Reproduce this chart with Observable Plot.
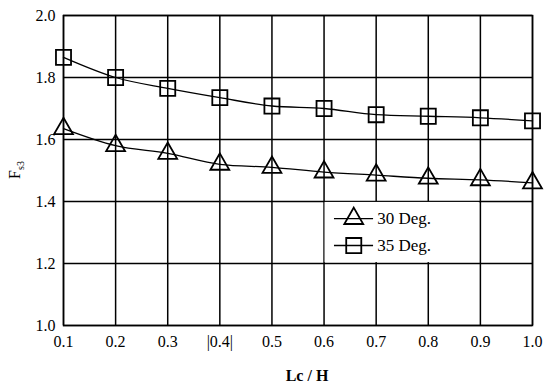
<!DOCTYPE html>
<html><head><meta charset="utf-8">
<script src="https://cdn.jsdelivr.net/npm/d3@7"></script>
<script src="https://cdn.jsdelivr.net/npm/@observablehq/plot@0.6"></script>
<style>body{margin:0;background:#fff}</style>
</head><body><div id="chart"></div>
<script>
const lcH = [0.1,0.2,0.3,0.4,0.5,0.6,0.7,0.8,0.9,1.0];
const deg30 = [1.635,1.58,1.555,1.52,1.51,1.495,1.485,1.475,1.47,1.46];
const deg35 = [1.865,1.80,1.765,1.735,1.708,1.70,1.68,1.675,1.67,1.66];
const xTicks = [0.1,0.2,0.3,0.4,0.5,0.6,0.7,0.8,0.9,1.0];
const xTickLabels = ["0.1","0.2","0.3","|0.4|","0.5","0.6","0.7","0.8","0.9","1.0"];
const yTicks = [1.0,1.2,1.4,1.6,1.8,2.0];
const yTickLabels = ["1.0","1.2","1.4","1.6","1.8","2.0"];
const seriesNames = ["30 Deg.","35 Deg."];

const d30 = lcH.map((x,i)=>({x, y:deg30[i]}));
const d35 = lcH.map((x,i)=>({x, y:deg35[i]}));
const legend = [{name:seriesNames[0], symbol:"triangle", lx:0.62, ly:1.345},
                {name:seriesNames[1], symbol:"square", lx:0.62, ly:1.258}];

const W=550,H=387;
const font = "'Liberation Serif', 'DejaVu Serif', serif";
const chart = Plot.plot({
  width:W, height:H,
  marginLeft:63, marginRight:18, marginTop:15, marginBottom:62,
  style:{fontSize:"16px", color:"#000", background:"#fff"},
  x:{domain:[0.1,1.0], axis:null},
  y:{domain:[1.0,2.0], axis:null},
  marks:[
    Plot.ruleX(xTicks,{stroke:"#000", strokeWidth:1.5, strokeOpacity:1}),
    Plot.ruleY(yTicks,{stroke:"#000", strokeWidth:1.5, strokeOpacity:1}),
    Plot.rect([{}],{x1:0.602,x2:0.898,y1:1.203,y2:1.397,fill:"#fff"}),
    Plot.frame({stroke:"#000", strokeWidth:1.5}),
    Plot.line(d30,{x:"x",y:"y",curve:"monotone-x",stroke:"#000",strokeWidth:1.3}),
    Plot.line(d35,{x:"x",y:"y",curve:"monotone-x",stroke:"#000",strokeWidth:1.3}),
    Plot.dot(d30,{x:"x",y:"y",symbol:"triangle",r:7,stroke:"#000",strokeWidth:1.8,fill:"none"}),
    Plot.dot(d35,{x:"x",y:"y",symbol:"square",r:8.5,stroke:"#000",strokeWidth:1.8,fill:"none"}),
    // legend
    Plot.ruleY(legend,{y:"ly",x1:"lx",x2:d=>d.lx+0.075,stroke:"#000",strokeWidth:1.3}),
    Plot.dot([legend[0]],{x:d=>d.lx+0.037,y:"ly",symbol:"triangle",r:7,stroke:"#000",strokeWidth:1.8,fill:"none"}),
    Plot.dot([legend[1]],{x:d=>d.lx+0.037,y:"ly",symbol:"square",r:8.5,stroke:"#000",strokeWidth:1.8,fill:"none"}),
    Plot.text(legend,{x:d=>d.lx+0.082,y:"ly",text:"name",textAnchor:"start",fontSize:17,fill:"#000"}),
    // axes tick labels
    Plot.text(xTicks,{x:d=>d,frameAnchor:"bottom",dy:21,text:(d,i)=>xTickLabels[i],fontSize:16,fill:"#000"}),
    Plot.text(yTicks,{y:d=>d,frameAnchor:"left",textAnchor:"end",dx:-8,text:(d,i)=>yTickLabels[i],fontSize:16,fill:"#000"})
  ]
});
document.getElementById("chart").appendChild(chart);
const svg = d3.select(chart);
svg.append("text").attr("x",307).attr("y",381).attr("text-anchor","middle")
  .attr("font-size",16).attr("font-weight","bold").text("Lc / H");
const yl = svg.append("text").attr("transform","translate(20,170) rotate(-90)")
  .attr("text-anchor","middle").attr("font-size",16);
yl.append("tspan").text("F");
yl.append("tspan").attr("font-size",10).attr("dy",4).text("s3");
svg.attr("font-family", font);
svg.selectAll("g, text").attr("font-family", font).style("font-family", font);
</script></body></html>
